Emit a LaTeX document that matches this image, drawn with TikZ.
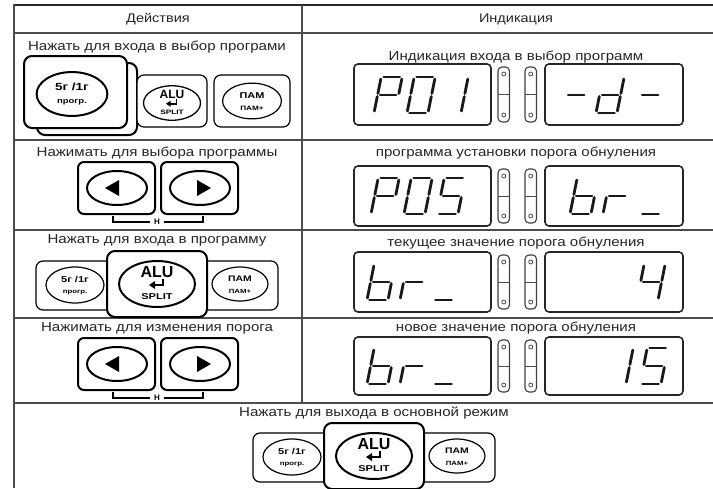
\documentclass[tikz,border=0pt]{standalone}
\usepackage{fontspec}
\setmainfont{Liberation Sans}
\newfontfamily\wfont[FakeStretch=1.16]{Liberation Sans}
\newfontfamily\kfont[FakeStretch=1.3]{Liberation Sans Bold}
\usetikzlibrary{shapes.geometric,calc}

\tikzset{
  tline/.style={draw=black!70, line width=1.2},
  lbl/.style={font=\wfont\fontsize{13}{15}\selectfont, text=black!85, inner sep=0},
  hdr/.style={font=\wfont\fontsize{12.5}{14}\selectfont, text=black!85, inner sep=0},
  disp/.style={draw=black!85, line width=1.6, rounded corners=4},
  ladder/.style={draw=black!75, line width=1.1, rounded corners=4},
  seg/.style={line width=2.8, line cap=round, draw=black!90},
  keybox/.style={draw=black, line width=1.2, rounded corners=7, fill=white},
  keyboxhi/.style={draw=black, line width=2, rounded corners=8, fill=white},
  ell/.style={ellipse, draw=black, line width=1.2, inner sep=0},
  ellhi/.style={ellipse, draw=black, line width=2, inner sep=0},
  btxt/.style={inner sep=0, text=black},
}

% seven-segment digits (W=21, H=36, slant 0.2)
\def\segS{0.2}
\newcommand\segline[4]{\draw[seg] ({\segx+#1+\segS*#2},{\segy-#2}) -- ({\segx+#3+\segS*#4},{\segy-#4});}
\newcommand\sega{\segline{2.5}{36}{18.5}{36}}
\newcommand\segb{\segline{21}{34}{21}{19.5}}
\newcommand\segc{\segline{21}{16.5}{21}{2}}
\newcommand\segd{\segline{2.5}{0}{18.5}{0}}
\newcommand\sege{\segline{0}{2}{0}{16.5}}
\newcommand\segf{\segline{0}{19.5}{0}{34}}
\newcommand\segg{\segline{2.5}{18}{18.5}{18}}
\newcommand\sevseg[3]{\def\segx{#1}\def\segy{#2}\foreach \sgm in {#3}{\csname seg\sgm\endcsname}}

% display group: top y, bottom y
\newcommand\dispgroup[3]{%
  \draw[disp] (354,#2) rectangle (491,#3);
  \draw[disp] (545,#2) rectangle (683,#3);
  \foreach \lx in {498,525}{
    \draw[ladder] (\lx,#2+3) rectangle (\lx+11.5,#3-3);
    \draw[black!70, line width=0.8] (\lx+5.75,#2+10) circle (2);
    \draw[black!70, line width=0.8] (\lx+5.75,#3-10) circle (2);
    \draw[black!70, line width=0.8] (\lx,{(#2+#3)/2}) -- (\lx+11.5,{(#2+#3)/2});
  }
}

% ALU button
\newcommand\alubtn[5]{%
  \begin{scope}[shift={(#2,#3)}, scale=#4, transform shape]
    \node[ell, line width=#5, minimum width=76, minimum height=46] (#1) at (0,0) {};
    \node[btxt, font=\bfseries\fontsize{16}{16}\selectfont] (#1a) at (0,-12) {ALU};
    \node[btxt, font=\kfont\fontsize{8.5}{9}\selectfont] (#1b) at (0,13) {SPLIT};
    \draw[line width=1.8] (6,-5) -- (6,1) -- (-3,1);
    \fill (-2,-3) -- (-8,1) -- (-2,5) -- cycle;
  \end{scope}}
% 5g/1g button
\newcommand\fivebtn[5]{%
  \begin{scope}[shift={(#2,#3)}, scale=#4, transform shape]
    \node[ell, line width=#5, minimum width=58, minimum height=36] (#1) at (0,0) {};
    \node[btxt, font=\kfont\fontsize{8.5}{9}\selectfont] (#1a) at (0,-6) {5г /1г};
    \node[btxt, font=\kfont\fontsize{6}{7}\selectfont] (#1b) at (0,7) {прогр.};
  \end{scope}}
% PAM button
\newcommand\pambtn[4]{%
  \begin{scope}[shift={(#2,#3)}, scale=#4, transform shape]
    \node[ell, minimum width=56, minimum height=34] (#1) at (0,0) {};
    \node[btxt, font=\kfont\fontsize{8}{9}\selectfont] (#1a) at (0,-5) {ПАМ};
    \node[btxt, font=\kfont\fontsize{6}{7}\selectfont] (#1b) at (0,7) {ПАМ+};
  \end{scope}}
% arrow pair, top y
\newcommand\arrowpair[2]{%
  \begin{scope}[shift={(0,#2)}]
    \draw[keyboxhi, rounded corners=6] (78,0) rectangle (155,52);
    \draw[keyboxhi, rounded corners=6] (161,0) rectangle (238,52);
    \node[ellhi, minimum width=60, minimum height=34] (#1l) at (117,26) {};
    \node[ellhi, minimum width=60, minimum height=34] (#1r) at (200,26) {};
    \fill (105,26) -- (119,18) -- (119,34) -- cycle;
    \fill (211,26) -- (197,18) -- (197,34) -- cycle;
    \draw[line width=1.3] (113,54) -- (113,60) -- (150,60);
    \draw[line width=1.3] (164,60) -- (203,60) -- (203,54);
    \node[btxt, font=\bfseries\fontsize{8}{8}\selectfont] (#1h) at (157,60) {Н};
  \end{scope}}
% three-button group
\newcommand\threebtn[3]{%
  \begin{scope}[shift={(#2,#3)}]
    \draw[keybox] (36,261) rectangle (278,310);
    \draw[keyboxhi] (107,251) rectangle (207,317);
  \end{scope}
  \fivebtn{#1f}{75+#2}{285+#3}{1}{1.2}
  \alubtn{#1a}{157+#2}{284+#3}{1}{2}
  \pambtn{#1p}{240+#2}{284+#3}{1}
}

\begin{document}
\begin{tikzpicture}[x=1pt, y=-1pt]
\useasboundingbox (0,0) rectangle (713,488);
\fill[white] (0,0) rectangle (713,488);

% table grid
\draw[black!85, line width=1.8] (14,5) -- (713,5);
\draw[tline] (14,4.2) -- (14,488);
\foreach \yy in {33,140,230,318,403} \draw[tline] (14,\yy) -- (713,\yy);
\draw[tline] (302,5) -- (302,403);

% headers
\node[hdr] (h1) at (158,19) {Действия};
\node[hdr] (h2) at (516,19) {Индикация};

% left texts
\node[lbl] (t1) at (157,47) {Нажать для входа в выбор програми};
\node[lbl] (t2) at (157,153) {Нажимать для выбора программы};
\node[lbl] (t3) at (157,240) {Нажать для входа в программу};
\node[lbl] (t4) at (157,328) {Нажимать для изменения порога};
\node[lbl] (t5) at (374,413) {Нажать для выхода в основной режим};

% right texts
\node[lbl] (r1) at (516,57) {Индикация входа в выбор программ};
\node[lbl] (r2) at (516,153) {программа установки порога обнуления};
\node[lbl] (r3) at (516,243) {текущее значение порога обнуления};
\node[lbl] (r4) at (516,328) {новое значение порога обнуления};

% row 1 buttons
\draw[keyboxhi] (37,63) rectangle (137,135);
\draw[keyboxhi] (24,56) rectangle (127,128);
\fivebtn{k1f}{72}{94}{1.22}{2}
\draw[keybox] (137,75) rectangle (207,127);
\alubtn{k1a}{172}{103}{0.75}{1.3}
\draw[keybox] (214,75) rectangle (290,127);
\pambtn{k1p}{252}{101}{1.05}

% row 2 & 4 arrows
\arrowpair{k2}{162}
\arrowpair{k4}{338}

% row 3 & 5 groups
\threebtn{k3}{0}{0}
\threebtn{k5}{217}{172}

% displays
\dispgroup{d1}{64}{125}
\sevseg{374}{113}{a,b,e,f,g}
\sevseg{407}{113}{a,b,c,d,e,f}
\sevseg{440}{113}{b,c}
\sevseg{562}{113}{g}
\sevseg{596}{113}{b,c,d,e,g}
\sevseg{636}{113}{g}

\dispgroup{d2}{166}{226}
\sevseg{371}{214}{a,b,e,f,g}
\sevseg{404}{214}{a,b,c,d,e,f}
\sevseg{437}{214}{a,c,d,f,g}
\sevseg{570}{214}{c,d,e,f,g}
\sevseg{603}{214}{e,g}
\sevseg{640}{214}{d}

\dispgroup{d3}{252}{312}
\sevseg{367}{300}{c,d,e,f,g}
\sevseg{400}{300}{e,g}
\sevseg{433}{300}{d}
\sevseg{637}{300}{b,c,f,g}

\dispgroup{d4}{337}{395}
\sevseg{367}{384}{c,d,e,f,g}
\sevseg{400}{384}{e,g}
\sevseg{433}{384}{d}
\sevseg{605}{384}{b,c}
\sevseg{640}{384}{a,c,d,f,g}
\end{tikzpicture}
\end{document}
